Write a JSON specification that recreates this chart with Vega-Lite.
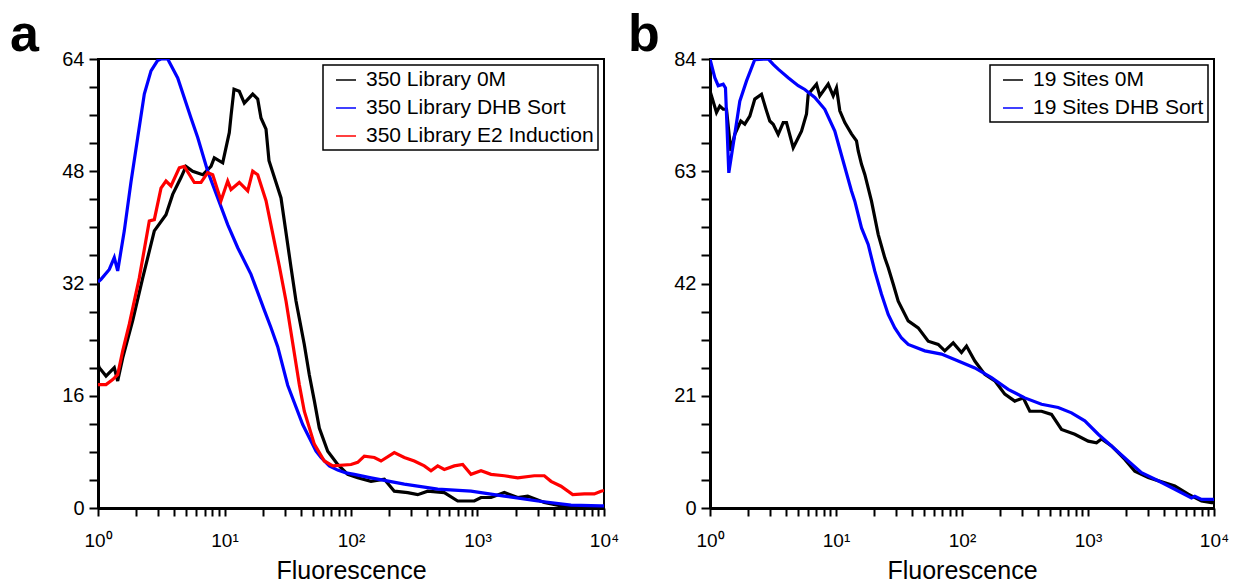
{
  "$schema": "https://vega.github.io/schema/vega-lite/v6.json",
  "padding": {"left": 9, "top": 8, "right": 5, "bottom": 0},
  "background": "white",
  "datasets": {
    "panelA": [
      {"series": "350 Library 0M", "fluorescence": 1, "count": 20.5},
      {"series": "350 Library 0M", "fluorescence": 1.024, "count": 20.0},
      {"series": "350 Library 0M", "fluorescence": 1.157, "count": 18.8},
      {"series": "350 Library 0M", "fluorescence": 1.345, "count": 20.0},
      {"series": "350 Library 0M", "fluorescence": 1.431, "count": 18.1},
      {"series": "350 Library 0M", "fluorescence": 1.568, "count": 21.4},
      {"series": "350 Library 0M", "fluorescence": 1.88, "count": 26.7},
      {"series": "350 Library 0M", "fluorescence": 2.257, "count": 32.8},
      {"series": "350 Library 0M", "fluorescence": 2.787, "count": 39.5},
      {"series": "350 Library 0M", "fluorescence": 3.447, "count": 41.8},
      {"series": "350 Library 0M", "fluorescence": 3.895, "count": 44.7},
      {"series": "350 Library 0M", "fluorescence": 4.53, "count": 47.1},
      {"series": "350 Library 0M", "fluorescence": 4.962, "count": 48.7},
      {"series": "350 Library 0M", "fluorescence": 5.606, "count": 48.0},
      {"series": "350 Library 0M", "fluorescence": 6.726, "count": 47.5},
      {"series": "350 Library 0M", "fluorescence": 7.822, "count": 48.7},
      {"series": "350 Library 0M", "fluorescence": 8.307, "count": 49.9},
      {"series": "350 Library 0M", "fluorescence": 9.678, "count": 49.2},
      {"series": "350 Library 0M", "fluorescence": 10.91, "count": 53.5},
      {"series": "350 Library 0M", "fluorescence": 11.26, "count": 55.9},
      {"series": "350 Library 0M", "fluorescence": 11.89, "count": 59.7},
      {"series": "350 Library 0M", "fluorescence": 13.09, "count": 59.4},
      {"series": "350 Library 0M", "fluorescence": 14.34, "count": 57.7},
      {"series": "350 Library 0M", "fluorescence": 16.71, "count": 59.0},
      {"series": "350 Library 0M", "fluorescence": 18.3, "count": 58.3},
      {"series": "350 Library 0M", "fluorescence": 19.43, "count": 55.6},
      {"series": "350 Library 0M", "fluorescence": 21.29, "count": 54.0},
      {"series": "350 Library 0M", "fluorescence": 22.48, "count": 49.5},
      {"series": "350 Library 0M", "fluorescence": 27.97, "count": 44.2},
      {"series": "350 Library 0M", "fluorescence": 33.56, "count": 34.3},
      {"series": "350 Library 0M", "fluorescence": 36.75, "count": 29.5},
      {"series": "350 Library 0M", "fluorescence": 42.74, "count": 23.3},
      {"series": "350 Library 0M", "fluorescence": 46.81, "count": 19.0},
      {"series": "350 Library 0M", "fluorescence": 51.28, "count": 15.3},
      {"series": "350 Library 0M", "fluorescence": 56.17, "count": 11.4},
      {"series": "350 Library 0M", "fluorescence": 65.44, "count": 8.1},
      {"series": "350 Library 0M", "fluorescence": 78.51, "count": 6.2},
      {"series": "350 Library 0M", "fluorescence": 94.17, "count": 4.8},
      {"series": "350 Library 0M", "fluorescence": 113.0, "count": 4.3},
      {"series": "350 Library 0M", "fluorescence": 143.9, "count": 3.8},
      {"series": "350 Library 0M", "fluorescence": 183.4, "count": 4.1},
      {"series": "350 Library 0M", "fluorescence": 219.9, "count": 2.4},
      {"series": "350 Library 0M", "fluorescence": 280.7, "count": 2.2},
      {"series": "350 Library 0M", "fluorescence": 336.7, "count": 1.9},
      {"series": "350 Library 0M", "fluorescence": 403.9, "count": 2.4},
      {"series": "350 Library 0M", "fluorescence": 546.4, "count": 2.2},
      {"series": "350 Library 0M", "fluorescence": 697.3, "count": 1.0},
      {"series": "350 Library 0M", "fluorescence": 943.4, "count": 1.0},
      {"series": "350 Library 0M", "fluorescence": 1066, "count": 1.5},
      {"series": "350 Library 0M", "fluorescence": 1279, "count": 1.5},
      {"series": "350 Library 0M", "fluorescence": 1629, "count": 2.2},
      {"series": "350 Library 0M", "fluorescence": 2079, "count": 1.5},
      {"series": "350 Library 0M", "fluorescence": 2494, "count": 1.7},
      {"series": "350 Library 0M", "fluorescence": 3374, "count": 0.8},
      {"series": "350 Library 0M", "fluorescence": 4572, "count": 0.3},
      {"series": "350 Library 0M", "fluorescence": 9469, "count": 0.1},
      {"series": "350 Library 0M", "fluorescence": 10000, "count": 0.1},

      {"series": "350 Library DHB Sort", "fluorescence": 1, "count": 32.2},
      {"series": "350 Library DHB Sort", "fluorescence": 1.056, "count": 32.6},
      {"series": "350 Library DHB Sort", "fluorescence": 1.228, "count": 34.0},
      {"series": "350 Library DHB Sort", "fluorescence": 1.345, "count": 35.7},
      {"series": "350 Library DHB Sort", "fluorescence": 1.431, "count": 33.8},
      {"series": "350 Library DHB Sort", "fluorescence": 1.614, "count": 39.5},
      {"series": "350 Library DHB Sort", "fluorescence": 1.824, "count": 46.5},
      {"series": "350 Library DHB Sort", "fluorescence": 2.06, "count": 52.8},
      {"series": "350 Library DHB Sort", "fluorescence": 2.323, "count": 59.0},
      {"series": "350 Library DHB Sort", "fluorescence": 2.624, "count": 62.3},
      {"series": "350 Library DHB Sort", "fluorescence": 2.964, "count": 63.8},
      {"series": "350 Library DHB Sort", "fluorescence": 3.148, "count": 64.0},
      {"series": "350 Library DHB Sort", "fluorescence": 3.556, "count": 64.0},
      {"series": "350 Library DHB Sort", "fluorescence": 4.266, "count": 61.3},
      {"series": "350 Library DHB Sort", "fluorescence": 5.435, "count": 55.6},
      {"series": "350 Library DHB Sort", "fluorescence": 6.141, "count": 52.8},
      {"series": "350 Library DHB Sort", "fluorescence": 7.366, "count": 48.0},
      {"series": "350 Library DHB Sort", "fluorescence": 8.838, "count": 44.2},
      {"series": "350 Library DHB Sort", "fluorescence": 10.6, "count": 40.4},
      {"series": "350 Library DHB Sort", "fluorescence": 12.72, "count": 37.1},
      {"series": "350 Library DHB Sort", "fluorescence": 16.2, "count": 33.3},
      {"series": "350 Library DHB Sort", "fluorescence": 20.64, "count": 28.2},
      {"series": "350 Library DHB Sort", "fluorescence": 23.32, "count": 25.7},
      {"series": "350 Library DHB Sort", "fluorescence": 26.34, "count": 23.0},
      {"series": "350 Library DHB Sort", "fluorescence": 31.6, "count": 17.5},
      {"series": "350 Library DHB Sort", "fluorescence": 41.51, "count": 11.9},
      {"series": "350 Library DHB Sort", "fluorescence": 52.89, "count": 8.1},
      {"series": "350 Library DHB Sort", "fluorescence": 57.94, "count": 7.2},
      {"series": "350 Library DHB Sort", "fluorescence": 67.38, "count": 6.0},
      {"series": "350 Library DHB Sort", "fluorescence": 78.51, "count": 5.4},
      {"series": "350 Library DHB Sort", "fluorescence": 91.31, "count": 5.0},
      {"series": "350 Library DHB Sort", "fluorescence": 106.2, "count": 4.8},
      {"series": "350 Library DHB Sort", "fluorescence": 143.9, "count": 4.3},
      {"series": "350 Library DHB Sort", "fluorescence": 263.8, "count": 3.4},
      {"series": "350 Library DHB Sort", "fluorescence": 484.6, "count": 2.7},
      {"series": "350 Library DHB Sort", "fluorescence": 888.4, "count": 2.4},
      {"series": "350 Library DHB Sort", "fluorescence": 1629, "count": 1.7},
      {"series": "350 Library DHB Sort", "fluorescence": 2991, "count": 1.0},
      {"series": "350 Library DHB Sort", "fluorescence": 5484, "count": 0.4},
      {"series": "350 Library DHB Sort", "fluorescence": 9469, "count": 0.3},
      {"series": "350 Library DHB Sort", "fluorescence": 10000, "count": 0.3},

      {"series": "350 Library E2 Induction", "fluorescence": 1, "count": 17.6},
      {"series": "350 Library E2 Induction", "fluorescence": 1.157, "count": 17.6},
      {"series": "350 Library E2 Induction", "fluorescence": 1.307, "count": 18.3},
      {"series": "350 Library E2 Induction", "fluorescence": 1.431, "count": 19.0},
      {"series": "350 Library E2 Induction", "fluorescence": 1.568, "count": 22.4},
      {"series": "350 Library E2 Induction", "fluorescence": 1.767, "count": 26.2},
      {"series": "350 Library E2 Induction", "fluorescence": 2.121, "count": 32.8},
      {"series": "350 Library E2 Induction", "fluorescence": 2.544, "count": 40.9},
      {"series": "350 Library E2 Induction", "fluorescence": 2.787, "count": 41.1},
      {"series": "350 Library E2 Induction", "fluorescence": 3.148, "count": 45.6},
      {"series": "350 Library E2 Induction", "fluorescence": 3.447, "count": 46.6},
      {"series": "350 Library E2 Induction", "fluorescence": 3.776, "count": 45.9},
      {"series": "350 Library E2 Induction", "fluorescence": 4.392, "count": 48.5},
      {"series": "350 Library E2 Induction", "fluorescence": 4.811, "count": 48.7},
      {"series": "350 Library E2 Induction", "fluorescence": 5.772, "count": 46.4},
      {"series": "350 Library E2 Induction", "fluorescence": 6.521, "count": 46.4},
      {"series": "350 Library E2 Induction", "fluorescence": 7.366, "count": 47.8},
      {"series": "350 Library E2 Induction", "fluorescence": 8.068, "count": 47.5},
      {"series": "350 Library E2 Induction", "fluorescence": 9.383, "count": 43.8},
      {"series": "350 Library E2 Induction", "fluorescence": 10.6, "count": 46.6},
      {"series": "350 Library E2 Induction", "fluorescence": 11.26, "count": 45.4},
      {"series": "350 Library E2 Induction", "fluorescence": 13.09, "count": 46.4},
      {"series": "350 Library E2 Induction", "fluorescence": 15.26, "count": 45.2},
      {"series": "350 Library E2 Induction", "fluorescence": 16.71, "count": 48.0},
      {"series": "350 Library E2 Induction", "fluorescence": 18.3, "count": 47.5},
      {"series": "350 Library E2 Induction", "fluorescence": 21.29, "count": 43.8},
      {"series": "350 Library E2 Induction", "fluorescence": 27.12, "count": 34.5},
      {"series": "350 Library E2 Induction", "fluorescence": 30.64, "count": 29.5},
      {"series": "350 Library E2 Induction", "fluorescence": 39.02, "count": 17.6},
      {"series": "350 Library E2 Induction", "fluorescence": 42.74, "count": 13.8},
      {"series": "350 Library E2 Induction", "fluorescence": 51.28, "count": 9.1},
      {"series": "350 Library E2 Induction", "fluorescence": 61.5, "count": 6.7},
      {"series": "350 Library E2 Induction", "fluorescence": 71.68, "count": 6.0},
      {"series": "350 Library E2 Induction", "fluorescence": 100, "count": 6.2},
      {"series": "350 Library E2 Induction", "fluorescence": 113.0, "count": 6.5},
      {"series": "350 Library E2 Induction", "fluorescence": 127.4, "count": 7.4},
      {"series": "350 Library E2 Induction", "fluorescence": 152.9, "count": 7.2},
      {"series": "350 Library E2 Induction", "fluorescence": 172.7, "count": 6.7},
      {"series": "350 Library E2 Induction", "fluorescence": 219.9, "count": 7.9},
      {"series": "350 Library E2 Induction", "fluorescence": 263.8, "count": 7.2},
      {"series": "350 Library E2 Induction", "fluorescence": 316.5, "count": 6.7},
      {"series": "350 Library E2 Induction", "fluorescence": 379.7, "count": 6.0},
      {"series": "350 Library E2 Induction", "fluorescence": 428.9, "count": 5.3},
      {"series": "350 Library E2 Induction", "fluorescence": 484.6, "count": 6.0},
      {"series": "350 Library E2 Induction", "fluorescence": 546.4, "count": 5.5},
      {"series": "350 Library E2 Induction", "fluorescence": 655.4, "count": 6.0},
      {"series": "350 Library E2 Induction", "fluorescence": 763.8, "count": 6.2},
      {"series": "350 Library E2 Induction", "fluorescence": 888.4, "count": 4.8},
      {"series": "350 Library E2 Induction", "fluorescence": 1066, "count": 5.3},
      {"series": "350 Library E2 Induction", "fluorescence": 1279, "count": 4.8},
      {"series": "350 Library E2 Induction", "fluorescence": 1629, "count": 4.6},
      {"series": "350 Library E2 Induction", "fluorescence": 2079, "count": 4.3},
      {"series": "350 Library E2 Induction", "fluorescence": 2812, "count": 4.6},
      {"series": "350 Library E2 Induction", "fluorescence": 3374, "count": 4.6},
      {"series": "350 Library E2 Induction", "fluorescence": 3811, "count": 3.8},
      {"series": "350 Library E2 Induction", "fluorescence": 4572, "count": 3.1},
      {"series": "350 Library E2 Induction", "fluorescence": 5657, "count": 1.9},
      {"series": "350 Library E2 Induction", "fluorescence": 6988, "count": 2.0},
      {"series": "350 Library E2 Induction", "fluorescence": 8381, "count": 2.0},
      {"series": "350 Library E2 Induction", "fluorescence": 9469, "count": 2.4},
      {"series": "350 Library E2 Induction", "fluorescence": 10000, "count": 2.5}
    ],
    "panelB": [
      {"series": "19 Sites 0M", "fluorescence": 1, "count": 78.0},
      {"series": "19 Sites 0M", "fluorescence": 1.126, "count": 74.0},
      {"series": "19 Sites 0M", "fluorescence": 1.196, "count": 75.2},
      {"series": "19 Sites 0M", "fluorescence": 1.273, "count": 74.6},
      {"series": "19 Sites 0M", "fluorescence": 1.352, "count": 74.6},
      {"series": "19 Sites 0M", "fluorescence": 1.463, "count": 66.8},
      {"series": "19 Sites 0M", "fluorescence": 1.573, "count": 69.9},
      {"series": "19 Sites 0M", "fluorescence": 1.756, "count": 72.4},
      {"series": "19 Sites 0M", "fluorescence": 1.889, "count": 71.8},
      {"series": "19 Sites 0M", "fluorescence": 2.07, "count": 73.3},
      {"series": "19 Sites 0M", "fluorescence": 2.268, "count": 76.5},
      {"series": "19 Sites 0M", "fluorescence": 2.563, "count": 77.4},
      {"series": "19 Sites 0M", "fluorescence": 2.808, "count": 74.3},
      {"series": "19 Sites 0M", "fluorescence": 2.983, "count": 72.4},
      {"series": "19 Sites 0M", "fluorescence": 3.174, "count": 71.8},
      {"series": "19 Sites 0M", "fluorescence": 3.477, "count": 69.9},
      {"series": "19 Sites 0M", "fluorescence": 3.811, "count": 72.1},
      {"series": "19 Sites 0M", "fluorescence": 4.047, "count": 72.1},
      {"series": "19 Sites 0M", "fluorescence": 4.575, "count": 67.4},
      {"series": "19 Sites 0M", "fluorescence": 5.324, "count": 70.5},
      {"series": "19 Sites 0M", "fluorescence": 5.833, "count": 73.7},
      {"series": "19 Sites 0M", "fluorescence": 6.017, "count": 77.4},
      {"series": "19 Sites 0M", "fluorescence": 7.003, "count": 79.3},
      {"series": "19 Sites 0M", "fluorescence": 7.437, "count": 77.1},
      {"series": "19 Sites 0M", "fluorescence": 8.674, "count": 79.3},
      {"series": "19 Sites 0M", "fluorescence": 9.502, "count": 77.1},
      {"series": "19 Sites 0M", "fluorescence": 10.09, "count": 78.6},
      {"series": "19 Sites 0M", "fluorescence": 10.72, "count": 74.3},
      {"series": "19 Sites 0M", "fluorescence": 11.75, "count": 72.1},
      {"series": "19 Sites 0M", "fluorescence": 13.27, "count": 70.0},
      {"series": "19 Sites 0M", "fluorescence": 14.54, "count": 68.7},
      {"series": "19 Sites 0M", "fluorescence": 15.01, "count": 66.8},
      {"series": "19 Sites 0M", "fluorescence": 15.94, "count": 64.3},
      {"series": "19 Sites 0M", "fluorescence": 16.93, "count": 62.4},
      {"series": "19 Sites 0M", "fluorescence": 19.13, "count": 57.4},
      {"series": "19 Sites 0M", "fluorescence": 21.62, "count": 51.2},
      {"series": "19 Sites 0M", "fluorescence": 24.39, "count": 46.8},
      {"series": "19 Sites 0M", "fluorescence": 25.96, "count": 45.0},
      {"series": "19 Sites 0M", "fluorescence": 28.44, "count": 41.9},
      {"series": "19 Sites 0M", "fluorescence": 31.17, "count": 38.7},
      {"series": "19 Sites 0M", "fluorescence": 37.41, "count": 35.0},
      {"series": "19 Sites 0M", "fluorescence": 44.92, "count": 33.7},
      {"series": "19 Sites 0M", "fluorescence": 53.92, "count": 31.2},
      {"series": "19 Sites 0M", "fluorescence": 64.73, "count": 30.6},
      {"series": "19 Sites 0M", "fluorescence": 73.02, "count": 29.4},
      {"series": "19 Sites 0M", "fluorescence": 85.17, "count": 30.9},
      {"series": "19 Sites 0M", "fluorescence": 99.08, "count": 29.1},
      {"series": "19 Sites 0M", "fluorescence": 108.6, "count": 30.3},
      {"series": "19 Sites 0M", "fluorescence": 126.4, "count": 27.5},
      {"series": "19 Sites 0M", "fluorescence": 151.7, "count": 25.0},
      {"series": "19 Sites 0M", "fluorescence": 182.1, "count": 23.8},
      {"series": "19 Sites 0M", "fluorescence": 218.6, "count": 21.3},
      {"series": "19 Sites 0M", "fluorescence": 262.4, "count": 20.0},
      {"series": "19 Sites 0M", "fluorescence": 306.0, "count": 20.6},
      {"series": "19 Sites 0M", "fluorescence": 345.3, "count": 18.1},
      {"series": "19 Sites 0M", "fluorescence": 427.6, "count": 18.1},
      {"series": "19 Sites 0M", "fluorescence": 513.2, "count": 17.5},
      {"series": "19 Sites 0M", "fluorescence": 616.2, "count": 14.7},
      {"series": "19 Sites 0M", "fluorescence": 785.6, "count": 13.8},
      {"series": "19 Sites 0M", "fluorescence": 1004, "count": 12.5},
      {"series": "19 Sites 0M", "fluorescence": 1168, "count": 12.2},
      {"series": "19 Sites 0M", "fluorescence": 1280, "count": 12.9},
      {"series": "19 Sites 0M", "fluorescence": 1537, "count": 11.6},
      {"series": "19 Sites 0M", "fluorescence": 1960, "count": 9.1},
      {"series": "19 Sites 0M", "fluorescence": 2352, "count": 6.9},
      {"series": "19 Sites 0M", "fluorescence": 3005, "count": 5.7},
      {"series": "19 Sites 0M", "fluorescence": 4069, "count": 4.7},
      {"series": "19 Sites 0M", "fluorescence": 4886, "count": 4.1},
      {"series": "19 Sites 0M", "fluorescence": 6240, "count": 2.6},
      {"series": "19 Sites 0M", "fluorescence": 7959, "count": 1.3},
      {"series": "19 Sites 0M", "fluorescence": 9555, "count": 1.0},
      {"series": "19 Sites 0M", "fluorescence": 10000, "count": 1.0},

      {"series": "19 Sites DHB Sort", "fluorescence": 1, "count": 84.0},
      {"series": "19 Sites DHB Sort", "fluorescence": 1.092, "count": 80.5},
      {"series": "19 Sites DHB Sort", "fluorescence": 1.162, "count": 79.0},
      {"series": "19 Sites DHB Sort", "fluorescence": 1.273, "count": 79.3},
      {"series": "19 Sites DHB Sort", "fluorescence": 1.327, "count": 78.6},
      {"series": "19 Sites DHB Sort", "fluorescence": 1.41, "count": 62.7},
      {"series": "19 Sites DHB Sort", "fluorescence": 1.573, "count": 69.9},
      {"series": "19 Sites DHB Sort", "fluorescence": 1.724, "count": 76.1},
      {"series": "19 Sites DHB Sort", "fluorescence": 1.949, "count": 79.9},
      {"series": "19 Sites DHB Sort", "fluorescence": 2.268, "count": 83.9},
      {"series": "19 Sites DHB Sort", "fluorescence": 2.897, "count": 84.0},
      {"series": "19 Sites DHB Sort", "fluorescence": 3.174, "count": 83.0},
      {"series": "19 Sites DHB Sort", "fluorescence": 3.477, "count": 82.1},
      {"series": "19 Sites DHB Sort", "fluorescence": 4.175, "count": 80.5},
      {"series": "19 Sites DHB Sort", "fluorescence": 5.012, "count": 79.0},
      {"series": "19 Sites DHB Sort", "fluorescence": 5.655, "count": 78.3},
      {"series": "19 Sites DHB Sort", "fluorescence": 6.788, "count": 76.8},
      {"series": "19 Sites DHB Sort", "fluorescence": 8.149, "count": 74.6},
      {"series": "19 Sites DHB Sort", "fluorescence": 9.784, "count": 70.5},
      {"series": "19 Sites DHB Sort", "fluorescence": 11.06, "count": 66.0},
      {"series": "19 Sites DHB Sort", "fluorescence": 13.27, "count": 59.3},
      {"series": "19 Sites DHB Sort", "fluorescence": 14.1, "count": 57.4},
      {"series": "19 Sites DHB Sort", "fluorescence": 15.94, "count": 52.4},
      {"series": "19 Sites DHB Sort", "fluorescence": 18.01, "count": 49.3},
      {"series": "19 Sites DHB Sort", "fluorescence": 20.32, "count": 44.3},
      {"series": "19 Sites DHB Sort", "fluorescence": 22.97, "count": 40.0},
      {"series": "19 Sites DHB Sort", "fluorescence": 25.96, "count": 36.2},
      {"series": "19 Sites DHB Sort", "fluorescence": 29.29, "count": 33.7},
      {"series": "19 Sites DHB Sort", "fluorescence": 33.11, "count": 31.8},
      {"series": "19 Sites DHB Sort", "fluorescence": 37.41, "count": 30.6},
      {"series": "19 Sites DHB Sort", "fluorescence": 50.68, "count": 29.4},
      {"series": "19 Sites DHB Sort", "fluorescence": 68.75, "count": 28.8},
      {"series": "19 Sites DHB Sort", "fluorescence": 93.3, "count": 27.5},
      {"series": "19 Sites DHB Sort", "fluorescence": 126.4, "count": 26.2},
      {"series": "19 Sites DHB Sort", "fluorescence": 171.4, "count": 24.4},
      {"series": "19 Sites DHB Sort", "fluorescence": 232.6, "count": 22.2},
      {"series": "19 Sites DHB Sort", "fluorescence": 315.1, "count": 20.6},
      {"series": "19 Sites DHB Sort", "fluorescence": 427.6, "count": 19.4},
      {"series": "19 Sites DHB Sort", "fluorescence": 580.0, "count": 18.8},
      {"series": "19 Sites DHB Sort", "fluorescence": 739.6, "count": 17.8},
      {"series": "19 Sites DHB Sort", "fluorescence": 943.1, "count": 16.3},
      {"series": "19 Sites DHB Sort", "fluorescence": 1205, "count": 13.8},
      {"series": "19 Sites DHB Sort", "fluorescence": 1537, "count": 11.6},
      {"series": "19 Sites DHB Sort", "fluorescence": 2084, "count": 8.8},
      {"series": "19 Sites DHB Sort", "fluorescence": 2658, "count": 6.6},
      {"series": "19 Sites DHB Sort", "fluorescence": 3607, "count": 5.1},
      {"series": "19 Sites DHB Sort", "fluorescence": 4886, "count": 3.5},
      {"series": "19 Sites DHB Sort", "fluorescence": 6628, "count": 1.9},
      {"series": "19 Sites DHB Sort", "fluorescence": 7041, "count": 2.2},
      {"series": "19 Sites DHB Sort", "fluorescence": 7959, "count": 1.6},
      {"series": "19 Sites DHB Sort", "fluorescence": 9555, "count": 1.6},
      {"series": "19 Sites DHB Sort", "fluorescence": 10000, "count": 1.6}
    ]
  },
  "hconcat": [
    {
      "title": {"text": "a", "dx": -88},
      "width": 506,
      "height": 449,
      "data": {"name": "panelA"},
      "mark": {"type": "line", "strokeWidth": 3.2, "clip": true},
      "encoding": {
        "x": {
          "field": "fluorescence",
          "type": "quantitative",
          "title": "Fluorescence",
          "scale": {"type": "log", "domain": [1, 10000], "nice": false},
          "axis": {
            "values": [1, 2, 3, 4, 5, 6, 7, 8, 9, 10, 20, 30, 40, 50, 60, 70, 80, 90, 100, 200, 300, 400, 500, 600, 700, 800, 900, 1000, 2000, 3000, 4000, 5000, 6000, 7000, 8000, 9000, 10000],
            "labelExpr": "datum.value == 1 ? '10⁰' : datum.value == 10 ? '10¹' : datum.value == 100 ? '10²' : datum.value == 1000 ? '10³' : datum.value == 10000 ? '10⁴' : ''"
          }
        },
        "y": {
          "field": "count",
          "type": "quantitative",
          "title": null,
          "scale": {"domain": [0, 64], "nice": false},
          "axis": {
            "values": [0, 4, 8, 12, 16, 20, 24, 28, 32, 36, 40, 44, 48, 52, 56, 60, 64],
            "labelExpr": "datum.value % 16 == 0 ? datum.label : ''"
          }
        },
        "color": {
          "field": "series",
          "type": "nominal",
          "scale": {"domain": ["350 Library 0M", "350 Library DHB Sort", "350 Library E2 Induction"], "range": ["#000000", "#0000ff", "#ff0000"]},
          "legend": {"title": null}
        }
      }
    },
    {
      "title": {"text": "b", "dx": -82},
      "width": 504,
      "height": 449,
      "data": {"name": "panelB"},
      "mark": {"type": "line", "strokeWidth": 3.2, "clip": true},
      "encoding": {
        "x": {
          "field": "fluorescence",
          "type": "quantitative",
          "title": "Fluorescence",
          "scale": {"type": "log", "domain": [1, 10000], "nice": false},
          "axis": {
            "values": [1, 2, 3, 4, 5, 6, 7, 8, 9, 10, 20, 30, 40, 50, 60, 70, 80, 90, 100, 200, 300, 400, 500, 600, 700, 800, 900, 1000, 2000, 3000, 4000, 5000, 6000, 7000, 8000, 9000, 10000],
            "labelExpr": "datum.value == 1 ? '10⁰' : datum.value == 10 ? '10¹' : datum.value == 100 ? '10²' : datum.value == 1000 ? '10³' : datum.value == 10000 ? '10⁴' : ''"
          }
        },
        "y": {
          "field": "count",
          "type": "quantitative",
          "title": null,
          "scale": {"domain": [0, 84], "nice": false},
          "axis": {
            "values": [0, 5.25, 10.5, 15.75, 21, 26.25, 31.5, 36.75, 42, 47.25, 52.5, 57.75, 63, 68.25, 73.5, 78.75, 84],
            "labelExpr": "datum.value % 21 == 0 ? datum.label : ''"
          }
        },
        "color": {
          "field": "series",
          "type": "nominal",
          "scale": {"domain": ["19 Sites 0M", "19 Sites DHB Sort"], "range": ["#000000", "#0000ff"]},
          "legend": {"title": null}
        }
      }
    }
  ],
  "spacing": 7,
  "resolve": {"scale": {"color": "independent"}, "legend": {"color": "independent"}},
  "config": {
    "font": "Liberation Sans",
    "view": {"stroke": "black", "strokeWidth": 2},
    "title": {
      "anchor": "start",
      "frame": "group",
      "fontSize": 52,
      "fontWeight": "bold",
      "font": "Liberation Sans",
      "color": "black",
      "baseline": "alphabetic",
      "offset": 6,
      "dy": 19
    },
    "axis": {
      "grid": false,
      "domainColor": "black",
      "domainWidth": 3,
      "tickColor": "black",
      "tickWidth": 2,
      "tickSize": 8,
      "labelColor": "black",
      "labelFont": "Liberation Sans",
      "labelFontSize": 20,
      "labelOverlap": false,
      "labelBound": false,
      "labelFlush": false,
      "titleFont": "Liberation Sans",
      "titleFontSize": 25,
      "titleFontWeight": "normal",
      "titleColor": "black"
    },
    "axisX": {"labelPadding": 15, "labelFontSize": 19, "titlePadding": 8},
    "axisY": {"labelPadding": 5, "tickSize": 9},
    "legend": {
      "orient": "top-right",
      "offset": 6,
      "strokeColor": "black",
      "strokeWidth": 1.5,
      "padding": 4,
      "symbolOffset": 8,
      "symbolType": "stroke",
      "symbolSize": 400,
      "symbolStrokeWidth": 1.5,
      "labelFont": "Liberation Sans",
      "labelFontSize": 21,
      "labelColor": "black",
      "labelLimit": 400,
      "labelOffset": 9,
      "rowPadding": 7
    }
  }
}
